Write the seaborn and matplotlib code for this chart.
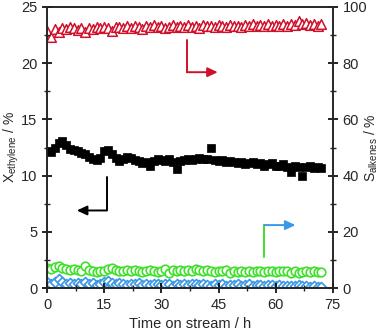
import matplotlib
matplotlib.use("Agg")
import matplotlib.pyplot as plt
import seaborn as sns
import pandas as pd
from matplotlib.ticker import MultipleLocator

# time on stream (h)
TIME = [0, 1, 2, 3, 4, 5, 6, 7, 8, 9, 10, 11, 12, 13, 14, 15, 16, 17, 18, 19,
        20, 21, 22, 23, 24, 25, 26, 27, 28, 29, 30, 31, 32, 33, 34, 35, 36, 37, 38, 39,
        40, 41, 42, 43, 44, 45, 46, 47, 48, 49, 50, 51, 52, 53, 54, 55, 56, 57, 58, 59,
        60, 61, 62, 63, 64, 65, 66, 67, 68, 69, 70, 71, 72]

# ethylene conversion (%), left axis
X_ETHYLENE = [12.2, 12.1, 12.5, 12.9, 13.1, 12.7, 12.4, 12.3, 12.2, 12.0,
              11.9, 11.7, 11.5, 11.4, 11.6, 12.2, 12.3, 11.9, 11.6, 11.3,
              11.5, 11.7, 11.6, 11.4, 11.3, 11.1, 11.2, 10.9, 11.3, 11.5,
              11.4, 11.3, 11.5, 11.2, 10.6, 11.3, 11.4, 11.5, 11.4, 11.5,
              11.6, 11.5, 11.5, 12.5, 11.4, 11.3, 11.4, 11.2, 11.3, 11.2,
              11.1, 11.2, 11.0, 11.1, 11.2, 11.0, 11.1, 10.9, 11.0, 11.1,
              10.9, 10.9, 11.0, 10.8, 10.3, 10.9, 10.8, 10.0, 10.8, 10.9,
              10.7, 10.8, 10.7]

# selectivities (%), right axis
S_RED = [91.5, 89.5, 92.3, 91.2, 92.6, 92.0, 92.8, 92.4, 91.8, 92.6,
         91.0, 92.7, 92.3, 92.9, 92.5, 93.0, 92.6, 91.5, 92.8, 93.0,
         92.5, 93.2, 92.7, 93.1, 92.9, 92.0, 93.3, 92.8, 93.5, 92.9,
         93.4, 92.6, 93.0, 93.6, 92.9, 93.3, 92.8, 93.5, 93.0, 93.2,
         92.7, 93.6, 93.1, 93.4, 92.9, 93.5, 93.2, 93.0, 93.7, 93.1,
         93.4, 92.9, 93.6, 93.2, 93.8, 93.1, 93.5, 93.3, 93.9, 93.2,
         93.6, 93.4, 93.8, 93.3, 94.0, 93.6, 95.0, 93.9, 94.2, 93.5,
         93.8, 93.4, 93.8]

S_GREEN = [7.3, 6.6, 7.5, 8.0, 7.2, 6.8, 6.5, 6.9, 6.3, 6.0,
           7.8, 6.4, 6.1, 5.8, 6.2, 6.0, 6.6, 7.1, 6.5, 6.2,
           6.0, 6.3, 5.9, 6.4, 6.1, 5.8, 6.0, 6.3, 6.1, 5.7,
           6.2, 6.6, 5.2, 6.5, 6.0, 6.3, 5.9, 6.4, 6.2, 6.6,
           6.3, 6.0, 6.5, 6.1, 5.8, 6.2, 5.9, 6.3, 5.5, 6.0,
           5.7, 6.1, 5.8, 6.0, 5.6, 5.9, 6.1, 5.7, 5.9, 6.0,
           5.8, 6.0, 5.9, 6.1, 5.5, 6.0, 5.3, 5.8, 6.0, 5.6,
           5.9, 5.7, 5.6]

S_BLUE = [2.0, 1.6, 2.3, 3.3, 2.1, 1.5, 1.8, 1.3, 1.9, 1.6,
          2.0, 1.4, 1.7, 1.2, 1.6, 2.1, 2.4, 1.7, 1.3, 1.8,
          1.5, 1.1, 1.6, 1.3, 1.7, 1.2, 1.5, 1.0, 1.4, 1.6,
          1.1, 1.5, 1.3, 0.9, 1.4, 1.2, 1.6, 1.1, 1.3, 1.5,
          1.0, 1.3, 1.2, 0.9, 1.4, 1.1, 1.3, 0.8, 1.2, 1.0,
          1.3, 0.9, 1.1, 1.4, 0.8, 1.0, 1.2, 0.7, 1.0, 1.1,
          0.8, 1.0, 0.7, 0.9, 0.6, 0.8, 1.0, 0.6, 0.8, 0.5,
          0.7, 0.5, 0.4]

RED = "#d0102a"
GREEN = "#3fe02a"
BLUE = "#3a98e6"

df = pd.DataFrame({"t": TIME, "x": X_ETHYLENE, "s_red": S_RED,
                   "s_green": S_GREEN, "s_blue": S_BLUE})

sns.set_style("ticks")
plt.rcParams["font.family"] = ["Liberation Sans", "DejaVu Sans"]
plt.rcParams["mathtext.fontset"] = "custom"
plt.rcParams["mathtext.rm"] = "Liberation Sans"

fig = plt.figure(figsize=(3.83, 3.33), dpi=100)
ax = fig.add_axes([0.123, 0.135, 0.746, 0.844])
ax2 = ax.twinx()

# right axis series (open markers)
sns.scatterplot(data=df, x="t", y="s_blue", ax=ax2, marker="D", s=26,
                facecolor="white", edgecolor=BLUE, linewidth=1.2)
sns.scatterplot(data=df, x="t", y="s_green", ax=ax2, marker="o", s=38,
                facecolor="white", edgecolor=GREEN, linewidth=1.2)
sns.scatterplot(data=df, x="t", y="s_red", ax=ax2, marker="^", s=48,
                facecolor="white", edgecolor=RED, linewidth=1.1)
# left axis series
ax.set_zorder(ax2.get_zorder() + 1)
ax.patch.set_visible(False)
sns.scatterplot(data=df, x="t", y="x", ax=ax, marker="s", s=28,
                color="black", edgecolor="black", linewidth=0.5)

ax.set_xlim(0, 75)
ax.set_ylim(0, 25)
ax2.set_ylim(0, 100)
ax.xaxis.set_major_locator(MultipleLocator(15))
ax.xaxis.set_minor_locator(MultipleLocator(7.5))
ax.yaxis.set_major_locator(MultipleLocator(5))
ax.yaxis.set_minor_locator(MultipleLocator(2.5))
ax2.yaxis.set_major_locator(MultipleLocator(20))
ax2.yaxis.set_minor_locator(MultipleLocator(10))

for a in (ax, ax2):
    a.tick_params(which="major", direction="inout", length=7, width=1.2,
                  labelsize=10.5, color="black")
    a.tick_params(which="minor", direction="inout", length=5, width=1.0)
    for sp in a.spines.values():
        sp.set_visible(True)
        sp.set_linewidth(1.2)
ax.tick_params(axis="x", top=False, which="both")
ax.tick_params(axis="y", right=False, which="both")

ax.set_xlabel("Time on stream / h", fontsize=10.5)
ax.set_ylabel(r"$\mathregular{X_{ethylene}}$ / %", fontsize=10)
ax2.set_ylabel(r"$\mathregular{S_{alkenes}}$ / %", fontsize=10)
ax.yaxis.set_label_coords(-0.09, 0.5)
ax2.yaxis.set_label_coords(1.105, 0.5)

# axis-pointer arrows
head = "-|>,head_length=0.6,head_width=0.28"
ax.plot([36.7, 36.7], [22.1, 19.2], color=RED, lw=1.4)
ax.annotate("", xy=(44.8, 19.2), xytext=(36.7, 19.2),
            arrowprops=dict(arrowstyle=head, color=RED, lw=1.4,
                            shrinkA=0, shrinkB=0))
ax.plot([15.7, 15.7], [9.9, 6.9], color="black", lw=1.4)
ax.annotate("", xy=(7.8, 6.9), xytext=(15.7, 6.9),
            arrowprops=dict(arrowstyle=head, color="black", lw=1.4,
                            shrinkA=0, shrinkB=0))
ax.plot([57.0, 57.0], [2.8, 5.6], color=GREEN, lw=1.4)
ax.annotate("", xy=(65.2, 5.6), xytext=(57.0, 5.6),
            arrowprops=dict(arrowstyle=head, color=BLUE, lw=1.4,
                            shrinkA=0, shrinkB=0))

fig.savefig("out.png", dpi=100)
